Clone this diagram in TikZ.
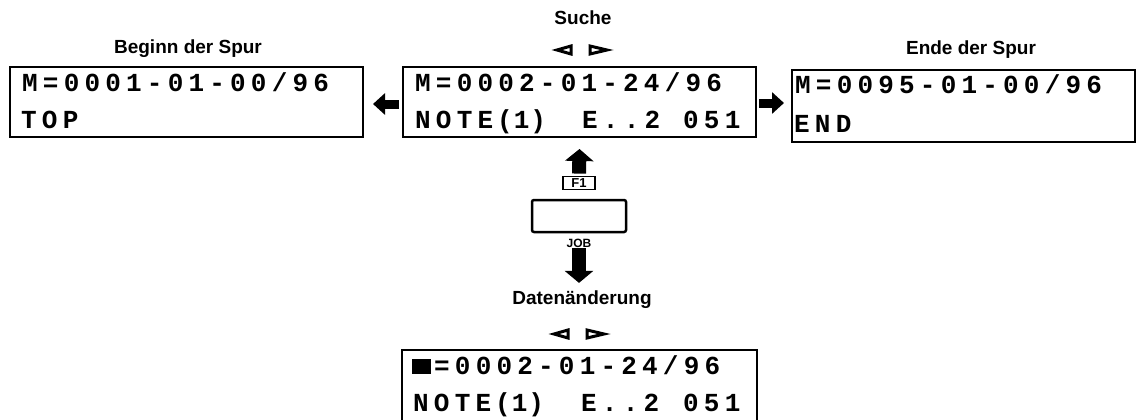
\documentclass[tikz,border=0pt]{standalone}
\usepackage{fontspec}
\setmainfont{Liberation Sans}
\newfontfamily\lcdfont{Liberation Mono}[LetterSpace=20]
\newfontfamily\lcdtight{Liberation Mono}[LetterSpace=4]
\usetikzlibrary{arrows.meta}
\tikzset{
  screen/.style={draw, line width=2pt, inner sep=0pt},
  lcd/.style={anchor=base west, inner sep=0pt, font=\lcdfont\bfseries\fontsize{26}{26}\selectfont},
  lcdt/.style={anchor=base west, inner sep=0pt, font=\lcdtight\bfseries\fontsize{26}{26}\selectfont},
  lbl/.style={font=\bfseries\fontsize{19}{19}\selectfont, inner sep=0pt},
  keylbl/.style={font=\bfseries\fontsize{13}{13}\selectfont, inner sep=0pt},
  blk/.style={line width=9pt, -{Triangle[length=12pt,width=21pt]}},
  blkv/.style={line width=14pt, -{Triangle[length=12pt,width=28pt]}},
  tri/.style={line width=3pt, line join=miter}
}
\begin{document}
\begin{tikzpicture}[x=1pt,y=-1pt]
\useasboundingbox (0,0) rectangle (1137,420);
% labels
\node[lbl] (tBeg) at (188,49) {Beginn der Spur};
\node[lbl] (tSuche) at (583,18) {Suche};
\node[lbl] (tEnde) at (971,50) {Ende der Spur};
\node[lbl] (tDat) at (582,300) {Daten\"anderung};
% triangles
\draw[tri] (557,50) -- (571,46) -- (571,54) -- cycle;
\draw[tri] (590,46) -- (590,54) -- (607,50) -- cycle;
\draw[tri] (554,334) -- (568,330) -- (568,338) -- cycle;
\draw[tri] (587,330) -- (587,338) -- (604,334) -- cycle;
% screens
\node[screen, minimum width=353pt, minimum height=70pt] (bL) at (186.5,102) {};
\node[screen, minimum width=353pt, minimum height=70pt] (bM) at (579.5,102) {};
\node[screen, minimum width=343pt, minimum height=72pt] (bR) at (963.5,106) {};
\node[screen, minimum width=355pt, minimum height=76pt] (bD) at (579.5,388) {};
% screen texts
\node[lcd] (l1) at (22,92) {M=0001-01-00/96};
\node[lcd] (l2) at (21,128) {TOP};
\node[lcd] (m1) at (415,92) {M=0002-01-24/96};
\node[lcd] (m2a) at (415,128) {NOTE};
\node[lcdt] (m2b) at (497,128) {(1)};
\node[lcd] (m2c) at (582,128) {E..2};
\node[lcd] (m2d) at (683,128) {051};
\node[lcd] (r1) at (795,93) {M=0095-01-00/96};
\node[lcd] (r2) at (794,132) {END};
\node[fill, inner sep=0pt, minimum width=19pt, minimum height=15pt, anchor=north west] (cur) at (412,359) {};
\node[lcd] (d1) at (434,374) {=0002-01-24/96};
\node[lcd] (d2a) at (413,411) {NOTE};
\node[lcdt] (d2b) at (495,411) {(1)};
\node[lcd] (d2c) at (581,411) {E..2};
\node[lcd] (d2d) at (683,411) {051};
% key area
\node[draw, line width=1.8pt, minimum width=32pt, minimum height=13pt, inner sep=0pt, keylbl] (f1) at (579,183) {F1};
\node[draw, line width=2.5pt, rounded corners=2pt, minimum width=94pt, minimum height=32pt, inner sep=0pt] (key) at (579,216) {};
\node[keylbl, font=\bfseries\fontsize{12}{12}\selectfont] (job) at (579,243) {JOB};
% arrows
\draw[blk] ([xshift=-3pt,yshift=-2pt]bM.west) -- ([xshift=9pt,yshift=-2pt]bL.east);
\draw[blk] ([xshift=2pt,yshift=-1pt]bM.east) -- ([xshift=-7pt,yshift=3pt]bR.west);
\draw[blkv] ([yshift=2pt]f1.north) -- ([yshift=-11pt]bM.south);
\draw[blkv] ([yshift=-1pt]job.south) -- ([yshift=8pt]job.south |- tDat.north);
\end{tikzpicture}
\end{document}
